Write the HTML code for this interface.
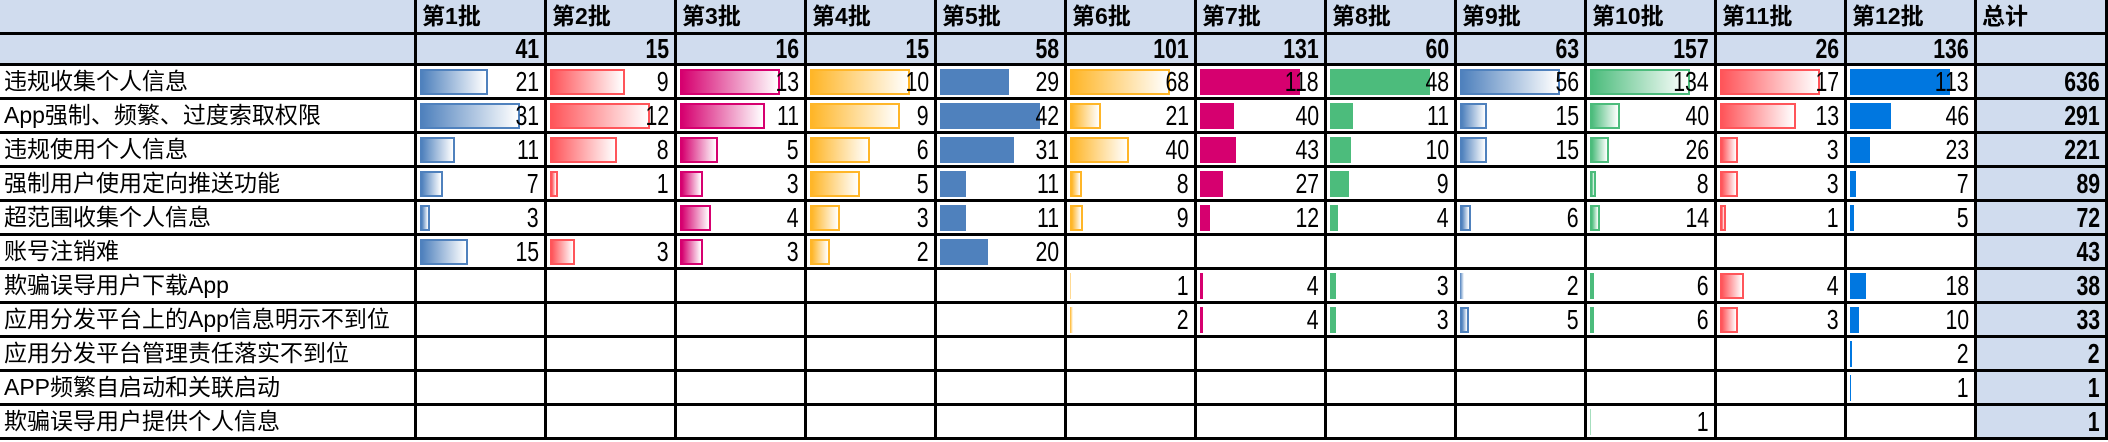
<!DOCTYPE html>
<html><head><meta charset="utf-8">
<style>
body{margin:0;width:2108px;height:442px;overflow:hidden;background:#fff;font-family:"Liberation Sans","Noto Sans CJK SC",sans-serif;}
#t{position:relative;width:2108px;height:442px;}
.c{position:absolute;box-sizing:border-box;border-right:3px solid #000;border-bottom:3px solid #000;overflow:visible;}
.hd{background:#d0dcee;}
.h1{font-weight:bold;font-size:23px;line-height:32px;padding-left:5px;}
.h2{font-weight:bold;font-size:26px;line-height:28px;}
.lab{font-size:23px;line-height:31px;padding-left:4px;white-space:nowrap;}
.num{font-size:28px;line-height:31px;text-align:right;position:absolute;right:5px;top:0;transform:scaleX(0.76);transform-origin:right center;}
.tot{font-weight:bold;}
.bar{position:absolute;left:3px;top:3px;height:26px;box-sizing:border-box;}
</style></head>
<body>
<div id="t"></div>
<script>
const batches=["第1批","第2批","第3批","第4批","第5批","第6批","第7批","第8批","第9批","第10批","第11批","第12批"];
const batchTotals=[41,15,16,15,58,101,131,60,63,157,26,136];
const categories=["违规收集个人信息","App强制、频繁、过度索取权限","违规使用个人信息","强制用户使用定向推送功能","超范围收集个人信息","账号注销难","欺骗误导用户下载App","应用分发平台上的App信息明示不到位","应用分发平台管理责任落实不到位","APP频繁自启动和关联启动","欺骗误导用户提供个人信息"];
const values=[
[21,9,13,10,29,68,118,48,56,134,17,113],
[31,12,11,9,42,21,40,11,15,40,13,46],
[11,8,5,6,31,40,43,10,15,26,3,23],
[7,1,3,5,11,8,27,9,null,8,3,7],
[3,null,4,3,11,9,12,4,6,14,1,5],
[15,3,3,2,20,null,null,null,null,null,null,null],
[null,null,null,null,null,1,4,3,2,6,4,18],
[null,null,null,null,null,2,4,3,5,6,3,10],
[null,null,null,null,null,null,null,null,null,null,null,2],
[null,null,null,null,null,null,null,null,null,null,null,1],
[null,null,null,null,null,null,null,null,null,1,null,null]];
const rowTotals=[636,291,221,89,72,43,38,33,2,1,1];
const barColors=["#4f81bd","#ff555a","#d6006f","#ffb628","#4f81bd","#ffb628","#d6006f","#4cbc7c","#4f81bd","#4cbc7c","#ff555a","#0077e0"];
const barGradient=[true,true,true,true,false,true,false,false,true,true,true,false];

const t=document.getElementById('t');
const LW=417,CW=130,H1=35,H2=31,RH=34,MAXBAR=100;
const colMax=batches.map((b,j)=>Math.max(...values.map(r=>r[j]||0)));
function cell(x,y,w,h,cls,txt){
  const d=document.createElement('div');
  d.className='c '+cls;
  d.style.left=x+'px';d.style.top=y+'px';d.style.width=w+'px';d.style.height=h+'px';
  if(txt!=null)d.textContent=txt;
  t.appendChild(d);return d;
}
function numEl(parent,v,bold){
  const n=document.createElement('div');
  n.className='num'+(bold?' tot':'');n.textContent=v;
  parent.appendChild(n);return n;
}
function colX(j){return LW+j*CW;}
let e=cell(0,0,LW,H1,'hd');


e=cell(0,H1,LW,H2,'hd');


batches.forEach((b,j)=>{
  let h=cell(colX(j),0,CW,H1,'hd h1',b);
  
  
  let s=cell(colX(j),H1,CW,H2,'hd h2');
  
  
  const n=numEl(s,batchTotals[j],true);
  n.style.lineHeight='28px';
  
  
});
const TX=colX(12),TW=2108-TX;
e=cell(TX,0,TW,H1,'hd h1','总计');


e=cell(TX,H1,TW,H2,'hd');


categories.forEach((c,i)=>{
  const y=H1+H2+i*RH;
  let l=cell(0,y,LW,RH,'lab',c);
  
  
  values[i].forEach((v,j)=>{
    const d=cell(colX(j),y,CW,RH,'');
    
    
    if(v==null)return;
    const bar=document.createElement('div');
    bar.className='bar';
    
    
    const w=v/colMax[j]*MAXBAR;
    bar.style.width=w+'px';
    const col=barColors[j];
    if(barGradient[j]){bar.style.background='linear-gradient(to right,'+col+',#ffffff)';if(w>=4)bar.style.border='2px solid '+col;}
    else bar.style.background=col;
    d.appendChild(bar);
    const n=numEl(d,v,false);
    
    
  });
  let tc=cell(TX,y,TW,RH,'hd');
  
  
  const n=numEl(tc,rowTotals[i],true);
  
  
});
</script>
</body></html>
